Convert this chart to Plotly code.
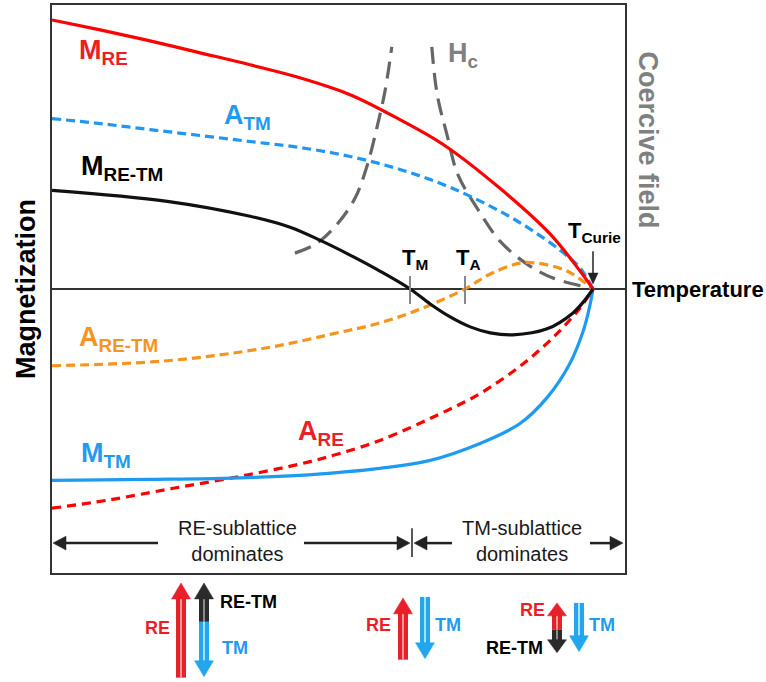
import plotly.graph_objects as go

# ---------------- data (T normalised to T_Curie, M in arbitrary units) ----------------
T_M_RE = [0.0, 0.089, 0.181, 0.274, 0.366, 0.458, 0.551, 0.643, 0.723, 0.828, 0.921, 0.976, 1.0]
M_RE = [2.70, 2.60, 2.49, 2.37, 2.25, 2.12, 1.95, 1.70, 1.45, 1.01, 0.55, 0.18, 0.0]

T_A_TM = [0.0, 0.089, 0.181, 0.274, 0.366, 0.458, 0.551, 0.643, 0.736, 0.828, 0.884, 0.939, 0.976, 1.0]
A_TM = [1.71, 1.66, 1.60, 1.54, 1.48, 1.42, 1.33, 1.20, 1.02, 0.78, 0.60, 0.39, 0.21, 0.0]

T_M_RETM = [0.0, 0.213, 0.366, 0.440, 0.495, 0.551, 0.606, 0.662, 0.699, 0.736,
            0.773, 0.810, 0.852, 0.915, 0.963, 0.985, 1.0]
M_RETM = [0.99, 0.88, 0.73, 0.62, 0.49, 0.34, 0.18, 0.0, -0.15, -0.28,
          -0.38, -0.44, -0.46, -0.40, -0.24, -0.11, 0.0]

T_A_RETM = [0.0, 0.213, 0.397, 0.519, 0.606, 0.686, 0.763, 0.810, 0.865, 0.896, 0.952, 1.0]
A_RETM = [-0.77, -0.72, -0.59, -0.45, -0.34, -0.19, 0.0, 0.15, 0.26, 0.26, 0.18, 0.0]

T_A_RE = [0.0, 0.102, 0.224, 0.348, 0.471, 0.532, 0.606, 0.730, 0.791, 0.871, 0.933, 0.976, 1.0]
A_RE = [-2.20, -2.12, -2.00, -1.88, -1.74, -1.65, -1.52, -1.22, -1.05, -0.75, -0.45, -0.19, 0.0]

T_M_TM = [0.0, 0.181, 0.316, 0.458, 0.532, 0.606, 0.699, 0.791, 0.865, 0.915, 0.957, 0.982, 0.994, 1.0]
M_TM = [-1.92, -1.91, -1.90, -1.87, -1.84, -1.80, -1.72, -1.55, -1.35, -1.09, -0.75, -0.42, -0.17, 0.0]

T_HC_LOW = [0.449, 0.490, 0.527, 0.560, 0.582, 0.601, 0.616, 0.628]
HC_LOW = [0.36, 0.46, 0.65, 0.91, 1.23, 1.63, 2.00, 2.43]
T_HC_HIGH = [0.702, 0.712, 0.730, 0.750, 0.786, 0.828, 0.878, 0.926, 0.994, 1.0]
HC_HIGH = [2.43, 1.95, 1.55, 1.15, 0.81, 0.48, 0.25, 0.11, 0.01, 0.0]

X_RANGE = [0.0, 1.0591]
Y_RANGE = [-2.85, 2.85]

FONT = "Liberation Sans, Arial, sans-serif"
RED = "#FF0000"
BLUE = "#1E9BF0"
ORANGE = "#F7941D"
GRAY = "#666666"

# ---------------- figure geometry (pixels) ----------------
W, H = 766, 682
L, R, TOP, BOT = 52, 625, 3, 573


def px(x):
    return (x - L) / (R - L)


def py(y):
    return (BOT - y) / (BOT - TOP)


fig = go.Figure()


def add_line(x, y, color, dash=None, width=3.2):
    fig.add_trace(go.Scatter(x=x, y=y, mode="lines", hoverinfo="skip",
                             line=dict(color=color, width=width, dash=dash,
                                       shape="spline", smoothing=1.0)))


add_line(T_HC_LOW, HC_LOW, GRAY, "17px,9px", 3.2)
add_line(T_HC_HIGH, HC_HIGH, GRAY, "17px,9px", 3.2)
add_line(T_A_TM, A_TM, "#2196F3", "9px,5px")
add_line(T_A_RETM, A_RETM, ORANGE, "9px,5px")
add_line(T_A_RE, A_RE, RED, "9px,6px")
add_line(T_M_TM, M_TM, BLUE)
add_line(T_M_RE, M_RE, RED)
add_line(T_M_RETM, M_RETM, "#111111")

shapes = []
annotations = []


def seg(x0, y0, x1, y1, color="#222222", width=2.5):
    shapes.append(dict(type="line", xref="paper", yref="paper",
                       x0=px(x0), y0=py(y0), x1=px(x1), y1=py(y1),
                       line=dict(color=color, width=width)))


def tri(pts, color="#222222"):
    path = "M " + " L ".join(f"{px(a)},{py(b)}" for a, b in pts) + " Z"
    shapes.append(dict(type="path", xref="paper", yref="paper", path=path,
                       fillcolor=color, line=dict(color=color, width=0.5)))


def text(x, y, t, size, color="#000000", bold=True, xanchor="center",
         yanchor="middle", angle=0):
    s = f"<b>{t}</b>" if bold else t
    annotations.append(dict(xref="paper", yref="paper", x=px(x), y=py(y), text=s,
                            showarrow=False, xanchor=xanchor, yanchor=yanchor,
                            textangle=angle,
                            font=dict(family=FONT, size=size, color=color)))


# --- curve labels ---
text(77, 50, "M<sub>RE</sub>", 27, "#EE1C24", xanchor="left")
text(222, 115, "A<sub>TM</sub>", 27, BLUE, xanchor="left")
text(79, 167, "M<sub>RE-TM</sub>", 27, "#000000", xanchor="left")
text(446, 53, "H<sub>c</sub>", 27, "#808080", xanchor="left")
text(77, 338, "A<sub>RE-TM</sub>", 27, ORANGE, xanchor="left")
text(296, 433, "A<sub>RE</sub>", 27, "#E8202A", xanchor="left")
text(79, 455, "M<sub>TM</sub>", 27, BLUE, xanchor="left")

# --- special temperatures ---
text(400, 258, "T<sub>M</sub>", 22, xanchor="left")
text(454, 258, "T<sub>A</sub>", 22, xanchor="left")
text(566, 231, "T<sub>Curie</sub>", 22, xanchor="left")
seg(410, 275, 410, 303, "#888888", 2)
seg(465, 275, 465, 303, "#888888", 2)
seg(593, 250, 593, 274, "#222222", 1.5)
tri([(588, 272), (598, 272), (593, 283)])

# --- axis titles ---
text(26, 288, "Magnetization", 27, angle=-90)
text(630, 289, "Temperature", 22, xanchor="left")
text(648, 138, "Coercive field", 27, "#808080", angle=90)

# --- regime arrows inside frame ---
YA = 543
seg(62, YA, 158, YA)
tri([(53, YA), (66, YA - 7), (66, YA + 7)])
seg(304, YA, 400, YA)
tri([(410, YA), (397, YA - 7), (397, YA + 7)])
seg(412, 528, 412, 557, "#222222", 1.5)
seg(424, YA, 452, YA)
tri([(414, YA), (427, YA - 7), (427, YA + 7)])
seg(590, YA, 614, YA)
tri([(623, YA), (610, YA - 7), (610, YA + 7)])
text(237, 541, "RE-sublattice<br>dominates", 20, "#1a1a1a", bold=False)
text(522, 541, "TM-sublattice<br>dominates", 20, "#1a1a1a", bold=False)


# --- spin arrows below the chart ---
def block_arrow(xc, y_tail, y_tip, color, light, shaft_w=10, head_w=19, head_h=16):
    d = 1 if y_tip > y_tail else -1
    base = y_tip - d * head_h
    shapes.append(dict(type="rect", xref="paper", yref="paper",
                       x0=px(xc - shaft_w / 2), x1=px(xc + shaft_w / 2),
                       y0=py(y_tail), y1=py(base + d * 1),
                       fillcolor=color, line=dict(width=0)))
    seg(xc, y_tail, xc, base, light, 2)
    tri([(xc - head_w / 2, base), (xc + head_w / 2, base), (xc, y_tip)], color)


RED_A, RED_L = "#E8202A", "#FF9A9A"
BLU_A, BLU_L = "#22A7EE", "#A5E2FF"
BLK_A, BLK_L = "#2B2B2B", "#8A8A8A"

block_arrow(181, 678, 583, RED_A, RED_L)
block_arrow(204, 622, 583, BLK_A, BLK_L)
block_arrow(204, 622, 677, BLU_A, BLU_L)
text(157, 628, "RE", 18, "#EE1C24")
text(218, 602, "RE-TM", 18, "#000000", xanchor="left")
text(220, 648, "TM", 18, BLUE, xanchor="left")

block_arrow(403, 660, 598, RED_A, RED_L)
block_arrow(425, 597, 659, BLU_A, BLU_L)
text(378, 625, "RE", 18, "#EE1C24")
text(448, 625, "TM", 18, BLUE)

block_arrow(557, 630, 603, RED_A, RED_L, head_h=13)
block_arrow(557, 630, 653, BLK_A, BLK_L, head_h=13)
block_arrow(579, 603, 652, BLU_A, BLU_L)
text(532, 610, "RE", 18, "#EE1C24")
text(514, 648, "RE-TM", 18, "#000000")
text(602, 625, "TM", 18, BLUE)

fig.update_layout(
    width=W, height=H,
    margin=dict(l=L, r=W - R, t=TOP, b=H - BOT),
    paper_bgcolor="white", plot_bgcolor="white",
    showlegend=False,
    shapes=shapes, annotations=annotations,
    xaxis=dict(range=X_RANGE, showgrid=False, zeroline=False, showticklabels=False,
               ticks="", showline=True, mirror=True, linecolor="#333333", linewidth=2),
    yaxis=dict(range=Y_RANGE, showgrid=False, zeroline=True, zerolinecolor="#333333",
               zerolinewidth=2, showticklabels=False, ticks="",
               showline=True, mirror=True, linecolor="#333333", linewidth=2),
)

fig.write_html("out.html", config={"displayModeBar": False},
               post_script="document.body.style.margin='0';document.body.style.overflow='hidden';")
